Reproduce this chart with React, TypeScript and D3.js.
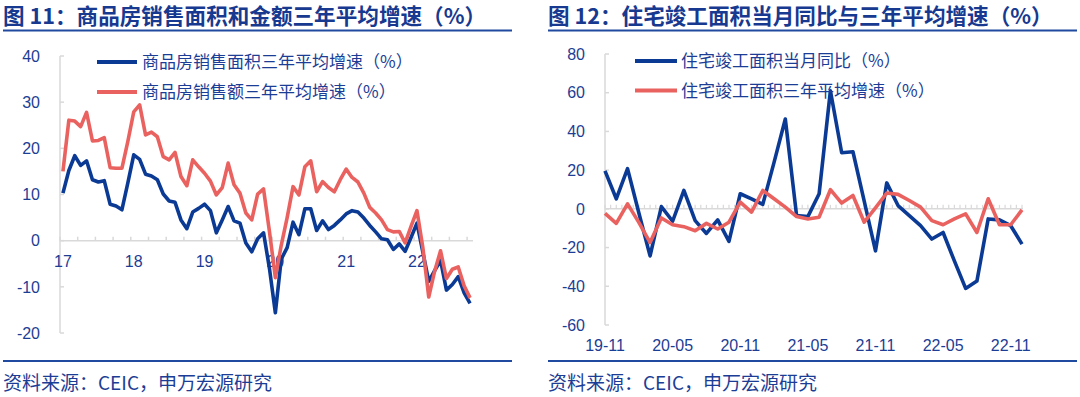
import React from "react";
import * as d3 from "d3";

// ---------- Data ----------
const leftMonths = d3.timeMonths(new Date(2017, 0, 1), new Date(2022, 10, 1)); // 2017-01 .. 2022-10
const salesArea3y = [
  10.3, 15.2, 18.4, 16.3, 17.3, 13.2, 12.7, 13.0, 7.9, 7.5,
  6.7, 12.5, 18.6, 17.6, 14.4, 14.0, 13.2, 10.1, 8.6, 8.3,
  4.5, 2.6, 6.2, 7.0, 7.9, 6.5, 1.7, 4.5, 7.4, 4.3,
  3.8, -0.5, -2.4, 0.4, 1.7, -6.0, -15.6, -4.0, -1.5, 4.0,
  1.3, 6.9, 6.9, 2.2, 4.3, 2.4, 3.3, 4.5, 5.8, 6.5,
  6.2, 4.9, 3.3, 1.9, 0.4, 0.2, -1.9, -0.7, -2.3, 0.7,
  3.8, -2.5, -8.8, -6.5, -4.3, -10.7, -9.5, -7.8, -11.3, -13.6,
];
const salesAmount3y = [
  15.0, 26.1, 25.9, 24.7, 27.8, 21.6, 21.7, 22.3, 15.8, 15.7,
  15.7, 21.5, 27.9, 29.4, 22.9, 23.5, 22.5, 18.2, 17.5, 19.1,
  13.9, 11.9, 17.5, 16.0, 14.6, 12.9, 9.9, 11.5, 16.8, 12.1,
  10.3, 6.0, 4.5, 10.1, 11.2, 2.0, -8.0, -1.0, 5.0, 11.7,
  9.9, 16.0, 17.3, 10.6, 12.8, 11.5, 10.6, 13.2, 15.5, 13.7,
  12.7, 10.3, 7.2, 6.0, 4.5, 2.4, 1.9, 2.0, -0.5, 3.1,
  6.5, -1.5, -12.2, -6.6, -2.2, -8.2, -6.2, -5.7, -9.8, -12.4,
];
const leftYTicks = [-20, -10, 0, 10, 20, 30, 40];
const leftYearLabels = ["17", "18", "19", "20", "21", "22"];

const rightMonths = d3.timeMonths(new Date(2019, 10, 1), new Date(2023, 0, 1)); // 2019-11 .. 2022-12
const completedYoY = [
  19.6, 5.2, 20.8, -2.0, -24.3, 1.2, -6.4, 9.5, -6.1, -12.7,
  -5.7, -16.8, 7.8, 5.2, 2.3, 24.0, 46.4, -3.5, -4.0, 7.8,
  61.0, 29.0, 29.5, 4.0, -21.7, 13.4, 1.7, -3.5, -8.7, -15.6,
  -12.2, -26.9, -41.1, -37.3, -5.2, -5.7, -8.7, -18.2,
];
const completed3y = [
  -2.3, -7.5, 2.6, -7.0, -17.4, -4.7, -8.2, -9.2, -11.3, -7.5,
  -10.4, -6.9, 3.5, -1.7, 9.5, 5.2, 0.9, -4.0, -5.2, -4.3,
  9.9, 3.0, 6.9, -6.9, 0.5, 8.2, 7.5, 4.3, 0.9, -6.1,
  -8.2, -5.2, -2.6, -12.2, 5.2, -8.2, -8.2, -0.5,
];
const rightYTicks = [-60, -40, -20, 0, 20, 40, 60, 80];
const rightXLabels = ["19-11", "20-05", "20-11", "21-05", "21-11", "22-05", "22-11"];

const leftTitle = "图 11：商品房销售面积和金额三年平均增速（%）";
const rightTitle = "图 12：住宅竣工面积当月同比与三年平均增速（%）";
const leftLegend = ["商品房销售面积三年平均增速（%）", "商品房销售额三年平均增速（%）"];
const rightLegend = ["住宅竣工面积当月同比（%）", "住宅竣工面积三年平均增速（%）"];
const sourceText = "资料来源：CEIC，申万宏源研究";

// ---------- Styles ----------
const BLUE = "#0b3a95";
const RED = "#e9625f";
const TXT = "#1c3d95";
const TITLE = "#17398f";
const AXIS = "#d9d9d9";
const RULE = "#1f4aa0";
const NUM_FONT = "'Liberation Sans', Arial, sans-serif";
const CJK_FONT = "'Noto Sans CJK SC', 'Noto Sans', sans-serif";
const LW = 3.6;

function LeftChart() {
  const x = d3.scaleBand<number>().domain(d3.range(leftMonths.length)).range([60, 473]);
  const cx = (i: number) => (x(i) as number) + x.bandwidth() / 2;
  const y = d3.scaleLinear().domain([-20, 40]).range([333, 56]);
  const line = d3.line<number>().x((_, i) => cx(i)).y((d) => y(d));
  const quarterTicks = d3.range(0, leftMonths.length, 3);
  const janIdx = leftMonths.map((m, i) => (m.getMonth() === 0 ? i : -1)).filter((i) => i >= 0);
  return (
    <g>
      <line x1={60} x2={60} y1={y(40)} y2={y(-20)} stroke={AXIS} strokeWidth={1.5} />
      {leftYTicks.map((t) => (
        <g key={t}>
          <line x1={60} x2={64} y1={y(t)} y2={y(t)} stroke={AXIS} strokeWidth={1.5} />
          <text x={40} y={y(t)} dy="0.36em" textAnchor="end" fontFamily={NUM_FONT} fontSize={16} fill={TXT}>
            {t}
          </text>
        </g>
      ))}
      <line x1={60} x2={473} y1={y(0)} y2={y(0)} stroke={AXIS} strokeWidth={1.5} />
      {quarterTicks.map((i) => (
        <line key={i} x1={x(i)} x2={x(i)} y1={y(0)} y2={y(0) - 4} stroke={AXIS} strokeWidth={1.5} />
      ))}
      {janIdx.map((i, k) => (
        <text key={i} x={cx(i)} y={267} textAnchor="middle" fontFamily={NUM_FONT} fontSize={16} fill={TXT}>
          {leftYearLabels[k]}
        </text>
      ))}
      <path d={line(salesArea3y) as string} fill="none" stroke={BLUE} strokeWidth={LW} strokeLinejoin="round" />
      <path d={line(salesAmount3y) as string} fill="none" stroke={RED} strokeWidth={LW} strokeLinejoin="round" />
      {[BLUE, RED].map((c, k) => (
        <g key={k}>
          <line x1={97} x2={137} y1={62 + k * 30} y2={62 + k * 30} stroke={c} strokeWidth={3.8} />
          <text x={142} y={62 + k * 30} dy="0.36em" fontFamily={CJK_FONT} fontSize={17} fill={TXT}>
            {leftLegend[k]}
          </text>
        </g>
      ))}
    </g>
  );
}

function RightChart() {
  const x = d3.scalePoint<number>().domain(d3.range(rightMonths.length)).range([605, 1022]);
  const step = x.step();
  const y = d3.scaleLinear().domain([-60, 80]).range([325, 54]);
  const line = d3.line<number>().x((_, i) => x(i) as number).y((d) => y(d));
  const halfTicks = d3.range(0, (rightMonths.length - 1) * 2 + 1);
  const labelIdx = d3.range(0, rightMonths.length, 6);
  return (
    <g>
      <line x1={605} x2={605} y1={y(80)} y2={y(-60)} stroke={AXIS} strokeWidth={1.5} />
      {rightYTicks.map((t) => (
        <g key={t}>
          <line x1={605} x2={609} y1={y(t)} y2={y(t)} stroke={AXIS} strokeWidth={1.5} />
          <text x={585} y={y(t)} dy="0.36em" textAnchor="end" fontFamily={NUM_FONT} fontSize={16} fill={TXT}>
            {t}
          </text>
        </g>
      ))}
      <line x1={605} x2={1023} y1={y(0)} y2={y(0)} stroke={AXIS} strokeWidth={1.5} />
      {halfTicks.map((k) => (
        <line key={k} x1={605 + (k * step) / 2} x2={605 + (k * step) / 2} y1={y(0)} y2={y(0) - 4} stroke={AXIS} strokeWidth={1.2} />
      ))}
      {labelIdx.map((i, k) => (
        <text key={i} x={x(i)} y={351} textAnchor="middle" fontFamily={NUM_FONT} fontSize={16} fill={TXT}>
          {rightXLabels[k]}
        </text>
      ))}
      <path d={line(completedYoY) as string} fill="none" stroke={BLUE} strokeWidth={LW} strokeLinejoin="round" />
      <path d={line(completed3y) as string} fill="none" stroke={RED} strokeWidth={LW} strokeLinejoin="round" />
      {[BLUE, RED].map((c, k) => (
        <g key={k}>
          <line x1={635} x2={677} y1={61 + k * 29.5} y2={61 + k * 29.5} stroke={c} strokeWidth={3.8} />
          <text x={681} y={61 + k * 29.5} dy="0.36em" fontFamily={CJK_FONT} fontSize={17} fill={TXT}>
            {rightLegend[k]}
          </text>
        </g>
      ))}
    </g>
  );
}

export default function App() {
  return (
    <svg width={1080} height={397} style={{ position: "absolute", left: 0, top: 0, background: "#fff" }}>
      <rect width={1080} height={397} fill="#fff" />
      <text x={3} y={24} fontFamily={CJK_FONT} fontWeight={700} fontSize={21.6} fill={TITLE}>{leftTitle}</text>
      <text x={548} y={24} fontFamily={CJK_FONT} fontWeight={700} fontSize={21.6} fill={TITLE}>{rightTitle}</text>
      <line x1={3} x2={512} y1={30.5} y2={30.5} stroke={RULE} strokeWidth={2} />
      <line x1={548} x2={1077} y1={30.5} y2={30.5} stroke={RULE} strokeWidth={2} />
      <LeftChart />
      <RightChart />
      <line x1={3} x2={512} y1={361} y2={361} stroke={RULE} strokeWidth={2} />
      <line x1={548} x2={1077} y1={361} y2={361} stroke={RULE} strokeWidth={2} />
      <text x={3} y={390} fontFamily={CJK_FONT} fontSize={19} fill={TXT}>{sourceText}</text>
      <text x={548} y={390} fontFamily={CJK_FONT} fontSize={19} fill={TXT}>{sourceText}</text>
    </svg>
  );
}
